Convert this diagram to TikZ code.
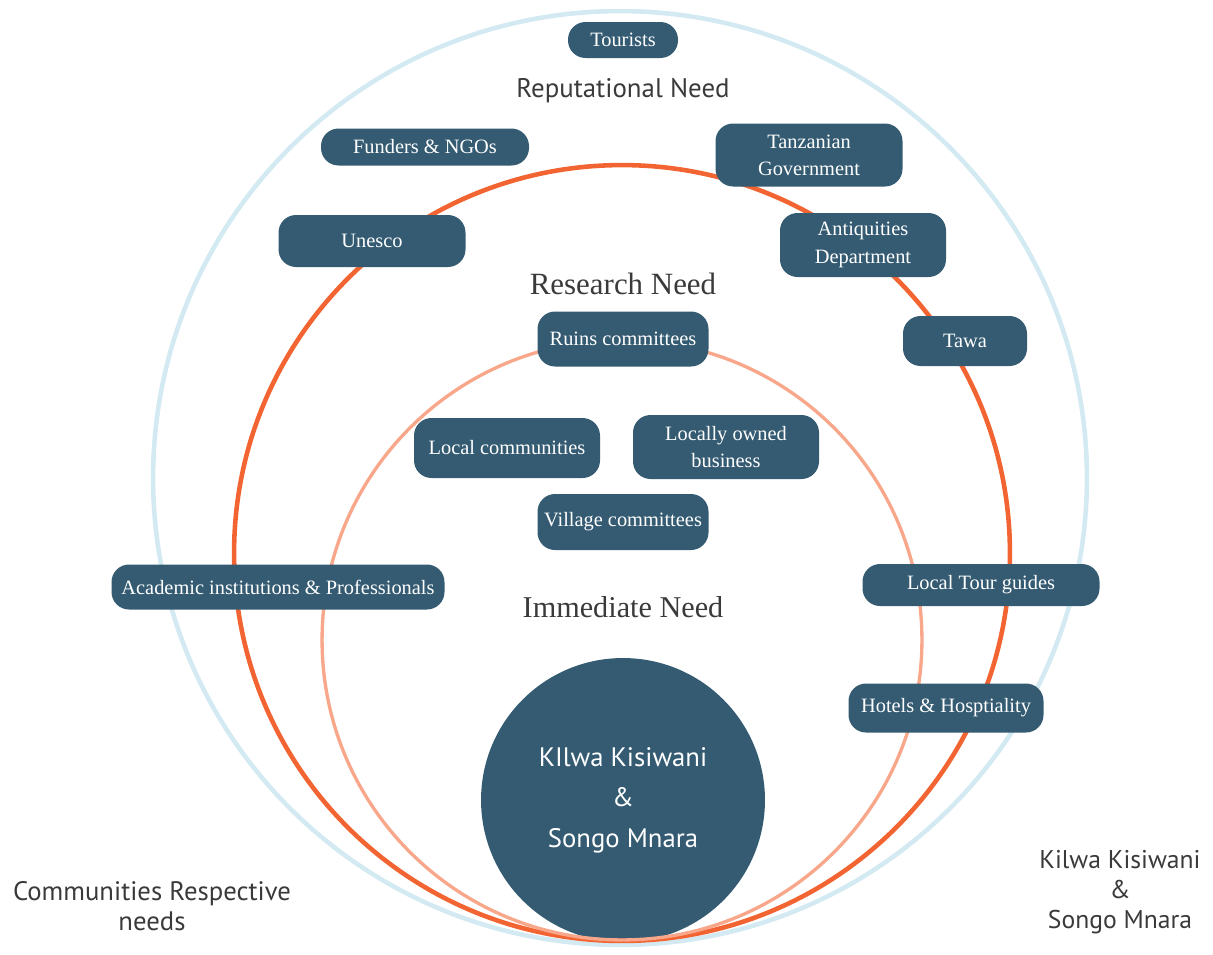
\documentclass[tikz,border=0pt]{standalone}
\usepackage{fontspec}
\setmainfont{Liberation Serif}
\newfontfamily\needsans{PT Sans}
\definecolor{pillblue}{HTML}{345B72}
\definecolor{outerblue}{HTML}{D4EAF2}
\definecolor{midorange}{HTML}{F26532}
\definecolor{innerorange}{HTML}{F8A78A}
\definecolor{labelgrey}{HTML}{3A3A3A}
\tikzset{
  pill/.style 2 args={fill=pillblue, text=white, rounded corners=10pt,
    minimum width=#1*0.02cm, minimum height=#2*0.02cm, inner sep=1pt,
    align=center, font=\fontsize{11.6}{15.5}\selectfont},
  needlabel/.style={text=labelgrey, align=center}
}
\begin{document}
\begin{tikzpicture}[x=0.02cm, y=-0.02cm]
  \useasboundingbox (0,0) rectangle (1213,954);
  % site in the middle, rings round it
  \node[circle, fill=pillblue, minimum size=5.68cm, text=white, align=center,
    font=\needsans\fontsize{15.2}{23}\selectfont] (site) at (623,800)
    {KIlwa Kisiwani\\ \&\\ Songo Mnara};
  \draw[outerblue, line width=2.6pt] (620,478) circle[radius=9.34cm];
  \draw[midorange, line width=2.6pt] (622,553) circle[radius=7.76cm];
  \draw[innerorange, line width=1.9pt] (622,640) circle[radius=6cm];
  % need labels
  \node[needlabel, font=\needsans\fontsize{15.3}{18}\selectfont] (reputational) at (623,91) {Reputational Need};
  \node[needlabel, font=\fontsize{17.6}{20}\selectfont] (research) at (623,284) {Research Need};
  \node[needlabel, font=\fontsize{17.2}{20}\selectfont] (immediate) at (623,607) {Immediate Need};
  \node[needlabel, font=\needsans\fontsize{15.2}{17}\selectfont] (communities) at (152,906) {Communities Respective\\ needs};
  \node[needlabel, font=\needsans\fontsize{14.6}{17}\selectfont] (kilwa) at (1120,892) {Kilwa Kisiwani\\ \&\\ Songo Mnara};
  % stakeholders
  \node[pill={110}{36}] (tourists) at (623,40) {Tourists};
  \node[pill={208}{37}] (funders) at (425,147) {Funders \& NGOs};
  \node[pill={187}{63}] (government) at (809,155) {Tanzanian\\ Government};
  \node[pill={187}{52}] (unesco) at (372,241) {Unesco};
  \node[pill={166}{64}] (antiquities) at (863,245) {Antiquities\\ Department};
  \node[pill={124}{50}] (tawa) at (965,341) {Tawa};
  \node[pill={171}{55}] (ruins) at (623,339) {Ruins committees};
  \node[pill={186}{60}] (local) at (507,448) {Local communities};
  \node[pill={186}{64}] (business) at (726,447) {Locally owned\\ business};
  \node[pill={171}{56}] (village) at (623,522) {Village committees};
  \node[pill={333}{45}] (academic) at (278,587) {Academic institutions \& Professionals};
  \node[pill={237}{42}] (guides) at (981,585) {Local Tour guides};
  \node[pill={195}{49}] (hotels) at (946,708) {Hotels \& Hosptiality};
\end{tikzpicture}
\end{document}
